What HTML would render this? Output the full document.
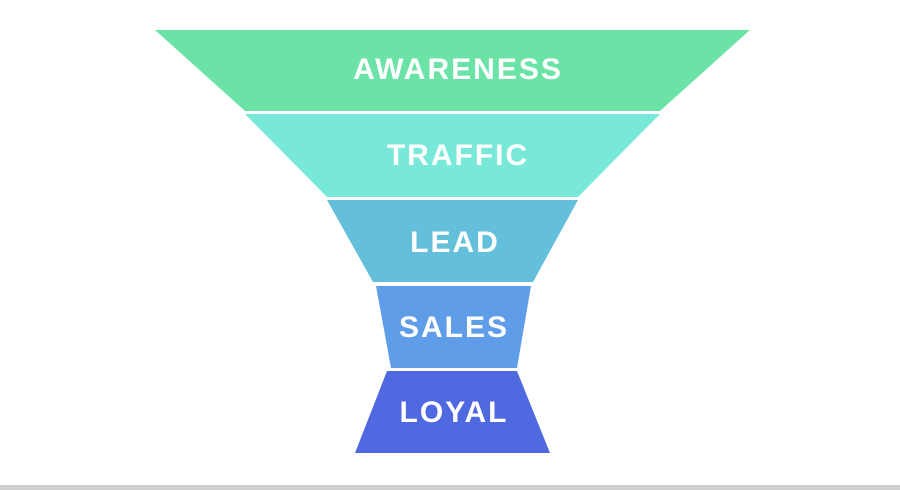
<!DOCTYPE html>
<html><head><style>
html,body{margin:0;padding:0;background:#fff;width:900px;height:490px;overflow:hidden}
</style></head><body>
<svg width="900" height="490" viewBox="0 0 900 490" xmlns="http://www.w3.org/2000/svg" style="display:block">
<polygon points="155,30 750,30 660,111 245,111" fill="#6ce3a6"/>
<polygon points="245,114 660,114 578,197 327,197" fill="#78e8d8"/>
<polygon points="327,200 578,200 533,282 373,282" fill="#64c0da"/>
<polygon points="376,286 531,286 517,368 391,368" fill="#5f9de9"/>
<polygon points="387,371 517,371 550,453 355,453" fill="#5068e0"/>
<rect x="0" y="485" width="900" height="5" fill="#cfcfcf"/>
<g font-family="Liberation Sans, sans-serif" font-weight="bold" font-size="30" fill="#fff" text-anchor="middle" letter-spacing="2">
<text x="458" y="79">AWARENESS</text>
<text x="458" y="165">TRAFFIC</text>
<text x="455" y="252">LEAD</text>
<text x="454" y="337">SALES</text>
<text x="454" y="422">LOYAL</text>
</g>
</svg>
</body></html>
